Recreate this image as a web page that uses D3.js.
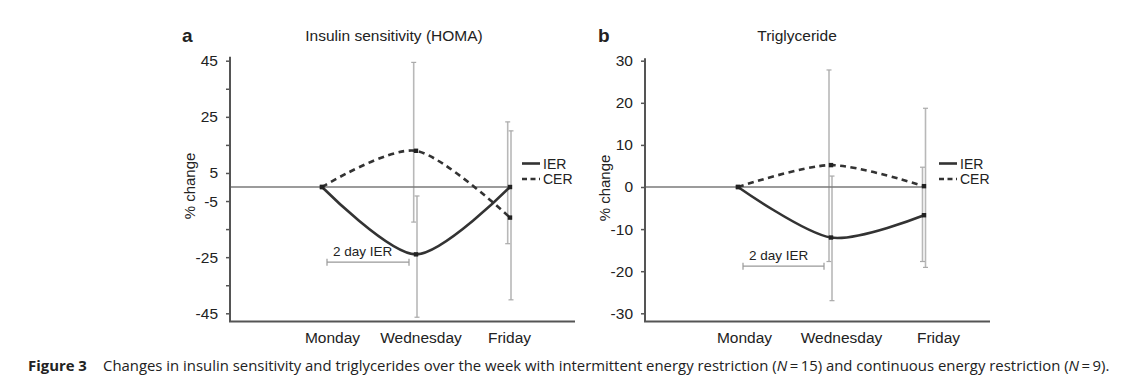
<!DOCTYPE html>
<meta charset="utf-8">
<style>
body { margin: 0; background: #fff; }
svg { display: block; }
.tick text, .lab { font-family: "Liberation Sans", Arial, sans-serif; fill: #222; }
.cap { font-family: "Open Sans", sans-serif; fill: #222; font-size: 14.9px; }
</style>
<script src="https://d3js.org/d3.v7.min.js"></script>
<svg width="1142" height="390"></svg>
<script>

var days = ["Monday", "Wednesday", "Friday"];

// insulin sensitivity (HOMA), % change
var homaIER = [0, -24, 0];
var homaIERHi = [null, -3.2, 23.2];
var homaIERLo = [null, -46.4, -20.2];
var homaCER = [0, 12.9, -10.9];
var homaCERHi = [null, 44.4, 20];
var homaCERLo = [null, -12.5, -40.2];
var homaTicks = [45, 35, 25, 15, 5, -5, -15, -25, -35, -45];
var homaLabels = [45, 25, 5, -5, -25, -45];

// triglyceride, % change
var tgIER = [0, -12, -6.7];
var tgIERHi = [null, 2.6, 4.7];
var tgIERLo = [null, -27, -17.7];
var tgCER = [0, 5.2, 0.2];
var tgCERHi = [null, 27.8, 18.7];
var tgCERLo = [null, -17.7, -19.1];
var tgTicks = [30, 20, 10, 0, -10, -20, -30];

var svg = d3.select("svg");

function panel(o) {
  var g = svg.append("g");

  var y = d3.scaleLinear().domain(o.ydom).range([313.3, 60.7]);
  var x = d3.scalePoint().domain(days).range(o.xr);
  var xl = d3.scalePoint().domain(days).range(o.xl);

  // light grey error bars
  function bars(mean, hi, lo, dx) {
    days.forEach(function(d, i) {
      if (hi[i] == null) return;
      var cx = x(d) + dx[i];
      g.append("line").attr("x1", cx).attr("x2", cx).attr("y1", y(hi[i])).attr("y2", y(lo[i]))
        .attr("stroke", "#b8b8b8").attr("stroke-width", 1.6);
      [hi[i], lo[i]].forEach(function(v) {
        g.append("line").attr("x1", cx - 2.5).attr("x2", cx + 2.5).attr("y1", y(v)).attr("y2", y(v))
          .attr("stroke", "#aaa").attr("stroke-width", 1.2);
      });
    });
  }
  bars(o.cer, o.cerHi, o.cerLo, o.cerDx);
  bars(o.ier, o.ierHi, o.ierLo, o.ierDx);

  // zero line
  g.append("line").attr("x1", o.ax).attr("x2", x("Friday") + 2).attr("y1", y(0)).attr("y2", y(0))
    .attr("stroke", "#7a7a7a").attr("stroke-width", 1.5);

  // "2 day IER" bracket
  var by = y(o.bracket), bx1 = x("Monday") + 5, bx2 = x("Wednesday") - 7;
  g.append("line").attr("x1", bx1).attr("x2", bx2).attr("y1", by).attr("y2", by)
    .attr("stroke", "#999").attr("stroke-width", 1.3);
  [bx1, bx2].forEach(function(bx) {
    g.append("line").attr("x1", bx).attr("x2", bx).attr("y1", by - 3.5).attr("y2", by + 3.5)
      .attr("stroke", "#999").attr("stroke-width", 1.2);
  });
  g.append("text").attr("class", "lab").attr("x", bx1 + 6).attr("y", by - 6)
    .style("font-size", "13.5px").text("2 day IER");

  // lines
  var line = d3.line().x(function(d, i) { return x(days[i]); }).y(function(d) { return y(d); })
    .curve(d3.curveCardinal.tension(0.15));
  g.append("path").attr("d", line(o.cer)).attr("fill", "none").attr("stroke", "#333")
    .attr("stroke-width", 2.6).attr("stroke-dasharray", "6,4.5");
  g.append("path").attr("d", line(o.ier)).attr("fill", "none").attr("stroke", "#333")
    .attr("stroke-width", 2.6);
  [o.cer, o.ier].forEach(function(s) {
    g.selectAll(null).data(s).enter().append("rect")
      .attr("x", function(d, i) { return x(days[i]) - 2.2; })
      .attr("y", function(d) { return y(d) - 2.2; })
      .attr("width", 4.4).attr("height", 4.4).attr("fill", "#222");
  });

  // y axis
  var ax = g.append("g").attr("transform", "translate(" + o.ax + ",0)")
    .call(d3.axisLeft(y).tickValues(o.ticks).tickSize(4).tickPadding(8)
      .tickFormat(function(d) { return o.labels.indexOf(d) >= 0 ? d : ""; }));
  ax.select(".domain").remove();
  ax.selectAll(".tick line").attr("stroke", "#555").attr("stroke-width", 1.5);
  ax.selectAll(".tick text").style("font-size", "15.5px");
  g.append("line").attr("x1", o.ax).attr("x2", o.ax).attr("y1", y(o.ydom[1]) - o.topPad)
    .attr("y2", 321.5).attr("stroke", "#555").attr("stroke-width", 2);

  // x axis line and day labels
  g.append("line").attr("x1", o.ax - 1).attr("x2", o.xend).attr("y1", 321.5).attr("y2", 321.5)
    .attr("stroke", "#555").attr("stroke-width", 2);
  g.selectAll(null).data(days).enter().append("text").attr("class", "lab")
    .attr("x", function(d) { return xl(d); }).attr("y", 343).attr("text-anchor", "middle")
    .style("font-size", "15.5px").text(function(d) { return d; });

  // y label
  g.append("text").attr("class", "lab")
    .attr("transform", "translate(" + o.ylabX + "," + o.ylabY + ") rotate(-90)")
    .attr("text-anchor", "middle").style("font-size", "15px").text("% change");

  // title and panel letter
  g.append("text").attr("class", "lab").attr("x", o.titleX).attr("y", 41)
    .attr("text-anchor", "middle").style("font-size", "15.5px").text(o.title);
  g.append("text").attr("class", "lab").attr("x", o.letterX).attr("y", 42)
    .style("font-size", "19px").style("font-weight", "bold").text(o.letter);

  // legend
  var lx = o.legX;
  [["IER", null, 163.5], ["CER", "5,3.5", 179]].forEach(function(r) {
    g.append("line").attr("x1", lx).attr("x2", lx + 18).attr("y1", r[2]).attr("y2", r[2])
      .attr("stroke", "#333").attr("stroke-width", 2.6).attr("stroke-dasharray", r[1]);
    g.append("text").attr("class", "lab").attr("x", lx + 21).attr("y", r[2] + 5)
      .style("font-size", "14px").text(r[0]);
  });
}

panel({
  letter: "a", letterX: 182, title: "Insulin sensitivity (HOMA)", titleX: 394,
  ydom: [-45, 45], ticks: homaTicks, labels: homaLabels, topPad: 4,
  ax: 230, xend: 575, xr: [322, 510], xl: [332.5, 509.5],
  ylabX: 195, ylabY: 186,
  ier: homaIER, ierHi: homaIERHi, ierLo: homaIERLo, ierDx: [0, 1, -2.3],
  cer: homaCER, cerHi: homaCERHi, cerLo: homaCERLo, cerDx: [0, -2.3, 1],
  bracket: -26.8, legX: 522
});

panel({
  letter: "b", letterX: 598, title: "Triglyceride", titleX: 797,
  ydom: [-30, 30], ticks: tgTicks, labels: tgTicks, topPad: 2.5,
  ax: 645, xend: 990, xr: [738, 924], xl: [744.5, 938.5],
  ylabX: 610, ylabY: 188,
  ier: tgIER, ierHi: tgIERHi, ierLo: tgIERLo, ierDx: [0, 1, -1.5],
  cer: tgCER, cerHi: tgCERHi, cerLo: tgCERLo, cerDx: [0, -2, 1.5],
  bracket: -18.8, legX: 939
});

// caption
var cap = svg.append("text").attr("class", "cap").attr("x", 28).attr("y", 371);
cap.append("tspan").style("font-weight", "bold").text("Figure 3");
cap.append("tspan").attr("x", 103).text("Changes in insulin sensitivity and triglycerides over the week with intermittent energy restriction (");
cap.append("tspan").style("font-style", "italic").text("N");
cap.append("tspan").text("\u2009=\u200915) and continuous energy restriction (");
cap.append("tspan").style("font-style", "italic").text("N");
cap.append("tspan").text("\u2009=\u20099).");

</script>
